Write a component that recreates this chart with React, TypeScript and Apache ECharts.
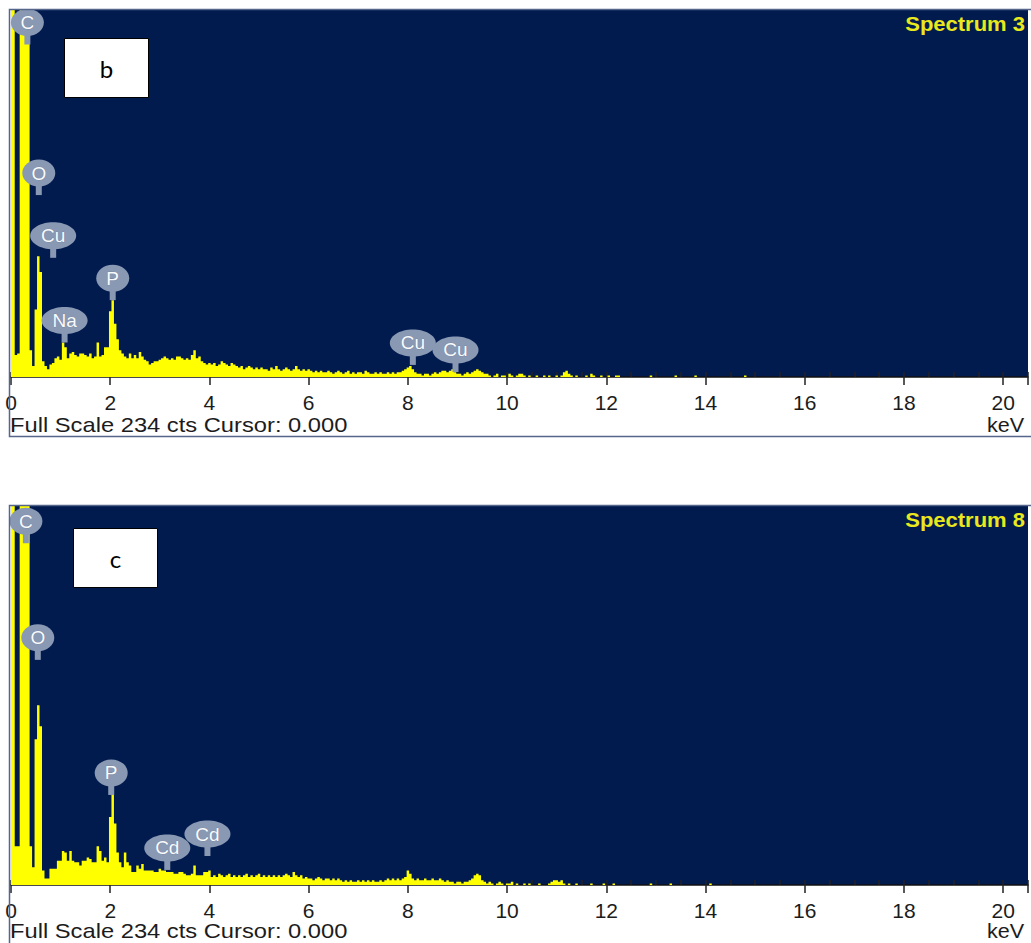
import React, { useEffect, useRef } from 'react';
import * as echarts from 'echarts';

// ---- data -------------------------------------------------------------
const STEP = 0.05; // keV per channel
const FULL_SCALE = 234; // cts
const X_MAX = 20.5;

// Spectrum 3 (panel b), counts per 0.05 keV channel starting at 0 keV
const countsB = [
  250, 250, 14, 15, 400, 600, 600, 400, 17, 7, // 0.00
  43, 77, 67, 10, 7, 5, 8, 9, 12, 13, // 0.50
  11, 22, 19, 12, 15, 16, 14, 13, 15, 15, // 1.00
  14, 13, 15, 12, 13, 22, 13, 14, 19, 19, // 1.50
  42, 49, 34, 24, 17, 15, 13, 12, 15, 12, // 2.00
  14, 12, 16, 13, 11, 10, 8, 9, 10, 10, // 2.50
  11, 12, 13, 12, 11, 12, 11, 13, 13, 12, // 3.00
  11, 12, 11, 14, 17, 12, 13, 10, 9, 8, // 3.50
  9, 8, 9, 7, 8, 10, 9, 8, 7, 9, // 4.00
  8, 7, 6, 7, 5, 6, 7, 6, 5, 6, // 4.50
  5, 6, 5, 5, 4, 6, 5, 7, 5, 4, // 5.00
  5, 6, 5, 4, 5, 7, 5, 4, 5, 4, // 5.50
  5, 4, 3, 4, 3, 4, 3, 3, 4, 3, // 6.00
  2, 3, 4, 3, 2, 3, 4, 2, 3, 2, // 6.50
  3, 3, 2, 4, 3, 2, 2, 3, 2, 3, // 7.00
  2, 2, 3, 2, 3, 2, 3, 3, 4, 5, // 7.50
  6, 7, 5, 3, 2, 2, 1, 2, 2, 1, // 8.00
  2, 3, 2, 3, 4, 4, 3, 4, 5, 3, // 8.50
  2, 2, 1, 2, 3, 2, 3, 4, 5, 4, // 9.00
  3, 2, 2, 1, 0, 1, 2, 0, 1, 1, // 9.50
  0, 2, 1, 0, 1, 2, 2, 1, 0, 1, // 10.00
  0, 0, 1, 0, 0, 1, 0, 1, 0, 0, // 10.50
  1, 0, 1, 3, 4, 2, 1, 0, 1, 0, // 11.00
  0, 0, 1, 0, 2, 1, 0, 0, 1, 0, // 11.50
  0, 1, 0, 0, 1, 1, 0, 0, 0, 0, // 12.00
  0, 0, 0, 0, 0, 0, 0, 0, 1, 0, // 12.50
  0, 0, 0, 0, 0, 0, 0, 0, 1, 0, // 13.00
  0, 0, 0, 0, 0, 0, 1, 0, 0, 0, // 13.50
  0, 0, 0, 0, 0, 0, 0, 0, 0, 0, // 14.00
  0, 0, 0, 0, 0, 0, 1, 0, 0, 0, // 14.50
];

// Spectrum 8 (panel c)
const countsC = [
  250, 250, 24, 24, 400, 600, 600, 400, 24, 11, // 0.00
  90, 111, 98, 9, 4, 4, 10, 10, 10, 15, // 0.50
  15, 21, 20, 15, 21, 15, 14, 14, 12, 15, // 1.00
  15, 17, 16, 14, 14, 24, 21, 15, 17, 14, // 1.50
  42, 57, 38, 20, 14, 11, 20, 14, 12, 8, // 2.00
  8, 12, 10, 13, 9, 9, 9, 9, 8, 8, // 2.50
  10, 9, 9, 8, 8, 8, 7, 7, 8, 8, // 3.00
  7, 6, 6, 7, 12, 6, 6, 6, 8, 8, // 3.50
  9, 5, 6, 5, 7, 6, 5, 6, 7, 5, // 4.00
  6, 5, 6, 5, 6, 7, 5, 6, 5, 6, // 4.50
  7, 5, 6, 5, 6, 5, 6, 5, 6, 5, // 5.00
  6, 7, 6, 5, 8, 6, 5, 6, 4, 5, // 5.50
  4, 4, 3, 4, 5, 4, 3, 4, 4, 3, // 6.00
  4, 3, 4, 3, 2, 3, 2, 3, 2, 2, // 6.50
  3, 2, 3, 2, 3, 2, 3, 2, 2, 3, // 7.00
  2, 3, 4, 3, 4, 3, 4, 3, 4, 5, // 7.50
  9, 7, 4, 3, 4, 3, 3, 4, 3, 3, // 8.00
  4, 3, 3, 4, 3, 2, 3, 2, 2, 1, // 8.50
  2, 2, 1, 2, 2, 3, 4, 6, 7, 6, // 9.00
  3, 2, 1, 2, 1, 0, 1, 2, 1, 0, // 9.50
  1, 1, 2, 0, 1, 0, 0, 1, 0, 1, // 10.00
  0, 0, 0, 1, 0, 0, 0, 1, 2, 3, // 10.50
  3, 2, 3, 1, 0, 1, 0, 0, 1, 0, // 11.00
  0, 0, 0, 0, 1, 0, 0, 0, 0, 1, // 11.50
  0, 0, 0, 1, 0, 0, 0, 0, 0, 0, // 12.00
  0, 0, 0, 0, 0, 0, 0, 0, 1, 0, // 12.50
  0, 0, 0, 0, 0, 0, 1, 0, 0, 0, // 13.00
  0, 0, 0, 0, 0, 0, 0, 0, 0, 0, // 13.50
  0, 0, 1, 0, 0, 0, 0, 0, 0, 0, // 14.00
];

// peak labels (element, energy keV, counts at pointer tip)
const peakNamesB = ['C', 'O', 'Cu', 'P', 'Na', 'Cu', 'Cu'];
const peakEnergyB = [0.33, 0.56, 0.85, 2.05, 1.08, 8.1, 8.96];
const peakCountB = [212, 116, 76, 49, 22, 7.7, 3.2];

const peakNamesC = ['C', 'O', 'P', 'Cd', 'Cd'];
const peakEnergyC = [0.3, 0.54, 2.02, 3.15, 3.96];
const peakCountC = [211, 139, 55.6, 9.3, 17.9];

const panelLetters = ['b', 'c'];
const spectrumTitles = ['Spectrum 3', 'Spectrum 8'];
const footerText = 'Full Scale 234 cts Cursor: 0.000';
const unitText = 'keV';

// ---- styles -----------------------------------------------------------
const NAVY = '#011b4f';
const YELLOW = '#ffff00';
const BUBBLE = '#8a99b3';
const FONT = '"Liberation Sans", Arial, Helvetica, sans-serif';
const FRAME = '#56668a';

const toSeries = (counts: number[]) => counts.map((c, i) => [Number((i * STEP).toFixed(2)), c]);

function bubbleSeries(names: string[], energies: number[], counts: number[], xIdx: number, yIdx: number) {
  return {
    type: 'custom',
    xAxisIndex: xIdx,
    yAxisIndex: yIdx,
    silent: true,
    z: 10,
    data: energies.map((e, i) => [e, counts[i]]),
    renderItem: (params: any, api: any) => {
      const p = api.coord([api.value(0), api.value(1)]);
      const name = names[params.dataIndex];
      const rx = name.length > 1 ? 23 : 16.5;
      return {
        type: 'group',
        children: [
          { type: 'rect', shape: { x: p[0] - 3, y: p[1] - 11, width: 6, height: 11 }, style: { fill: BUBBLE } },
          { type: 'ellipse', shape: { cx: p[0], cy: p[1] - 22, rx, ry: 13.5 }, style: { fill: BUBBLE } },
          {
            type: 'text',
            x: p[0],
            y: p[1] - 22,
            style: {
              text: name,
              fontSize: 19,
              fontFamily: FONT,
              fill: '#f8fafd',
              stroke: '#6a7a96',
              lineWidth: 0.6,
              align: 'center',
              verticalAlign: 'middle',
            },
          },
        ],
      };
    },
  };
}

function majorAxis(gridIndex: number) {
  return {
    gridIndex,
    type: 'value',
    min: 0,
    max: X_MAX,
    interval: 2,
    axisLine: { show: true, onZero: false, lineStyle: { color: '#111', width: 1.5 } },
    axisTick: { show: true, length: 8, lineStyle: { color: '#222', width: 1.5 } },
    splitLine: { show: false },
    axisLabel: {
      show: true,
      margin: 15,
      fontSize: 21,
      fontFamily: FONT,
      color: '#1c1c1c',
      formatter: (v: number) => (v % 2 === 0 ? String(v) : ''),
    },
  };
}

function minorAxis(gridIndex: number) {
  return {
    gridIndex,
    type: 'value',
    min: 0,
    max: X_MAX,
    interval: 0.5,
    axisLine: { show: false },
    axisTick: { show: true, length: 5, lineStyle: { color: '#222', width: 1.5 } },
    splitLine: { show: false },
    axisLabel: { show: false },
  };
}

function yAxis(gridIndex: number) {
  return {
    gridIndex,
    type: 'value',
    min: 0,
    max: FULL_SCALE,
    axisLine: { show: true, lineStyle: { color: '#1a1a22', width: 1 } },
    axisTick: { show: false },
    axisLabel: { show: false },
    splitLine: { show: false },
  };
}

function spectrumSeries(counts: number[], xIdx: number, yIdx: number) {
  return {
    type: 'line',
    xAxisIndex: xIdx,
    yAxisIndex: yIdx,
    data: toSeries(counts),
    step: 'middle',
    symbol: 'none',
    silent: true,
    clip: true,
    lineStyle: { width: 0, color: YELLOW },
    areaStyle: { color: YELLOW, opacity: 1 },
    z: 3,
  };
}

function panelGraphics(frameTop: number, letterBox: { x: number; y: number }, idx: number, footerY: number) {
  return [
    {
      type: 'rect',
      z: 100,
      shape: { x: 9.5, y: frameTop + 0.5, width: 1100, height: idx === 0 ? 427 : 600 },
      style: { fill: 'none', stroke: FRAME, lineWidth: 1.5 },
    },
    {
      type: 'rect',
      z: 100,
      shape: { x: letterBox.x + 0.5, y: letterBox.y + 0.5, width: 84, height: 59 },
      style: { fill: '#ffffff', stroke: '#000000', lineWidth: 1 },
    },
    {
      type: 'text',
      z: 101,
      x: letterBox.x + 42.5,
      y: letterBox.y + 30,
      style: {
        text: panelLetters[idx],
        fontSize: 24,
        fontFamily: 'Lato, "Open Sans", sans-serif',
        fill: '#000',
        align: 'center',
        verticalAlign: 'middle',
      },
    },
    {
      type: 'text',
      z: 101,
      x: 1025,
      y: frameTop + 15,
      scaleX: 1.1,
      style: {
        text: spectrumTitles[idx],
        fontSize: 20,
        fontWeight: 'bold',
        fontFamily: FONT,
        fill: '#e8e81c',
        align: 'right',
        verticalAlign: 'middle',
      },
    },
    {
      type: 'text',
      z: 101,
      x: 10,
      y: footerY,
      scaleX: 1.13,
      style: {
        text: footerText,
        fontSize: 21,
        fontFamily: FONT,
        fill: '#1c1c1c',
        align: 'left',
        verticalAlign: 'middle',
      },
    },
    {
      type: 'text',
      z: 101,
      x: 987,
      y: footerY,
      scaleX: 1.08,
      style: {
        text: unitText,
        fontSize: 20,
        fontFamily: FONT,
        fill: '#1c1c1c',
        align: 'left',
        verticalAlign: 'middle',
      },
    },
  ];
}

function buildOption() {
  return {
    animation: false,
    backgroundColor: '#ffffff',
    grid: [
      { left: 11, top: 10, width: 1020, height: 367, show: true, backgroundColor: NAVY, borderWidth: 0 },
      { left: 11, top: 506, width: 1020, height: 379, show: true, backgroundColor: NAVY, borderWidth: 0 },
    ],
    xAxis: [majorAxis(0), minorAxis(0), majorAxis(1), minorAxis(1)],
    yAxis: [yAxis(0), yAxis(1)],
    series: [
      spectrumSeries(countsB, 0, 0),
      spectrumSeries(countsC, 2, 1),
      bubbleSeries(peakNamesB, peakEnergyB, peakCountB, 0, 0),
      bubbleSeries(peakNamesC, peakEnergyC, peakCountC, 2, 1),
    ],
    graphic: [
      ...panelGraphics(9, { x: 64, y: 38 }, 0, 425),
      ...panelGraphics(505, { x: 73, y: 528 }, 1, 931),
    ],
  };
}

export default function App() {
  const ref = useRef<HTMLDivElement>(null);
  useEffect(() => {
    if (!ref.current) return;
    const chart = echarts.init(ref.current, null, { renderer: 'svg' });
    chart.setOption(buildOption() as any);
    return () => chart.dispose();
  }, []);
  return (
    <div
      ref={ref}
      style={{ position: 'absolute', left: 0, top: 0, width: 1031, height: 943, background: '#ffffff' }}
    />
  );
}
